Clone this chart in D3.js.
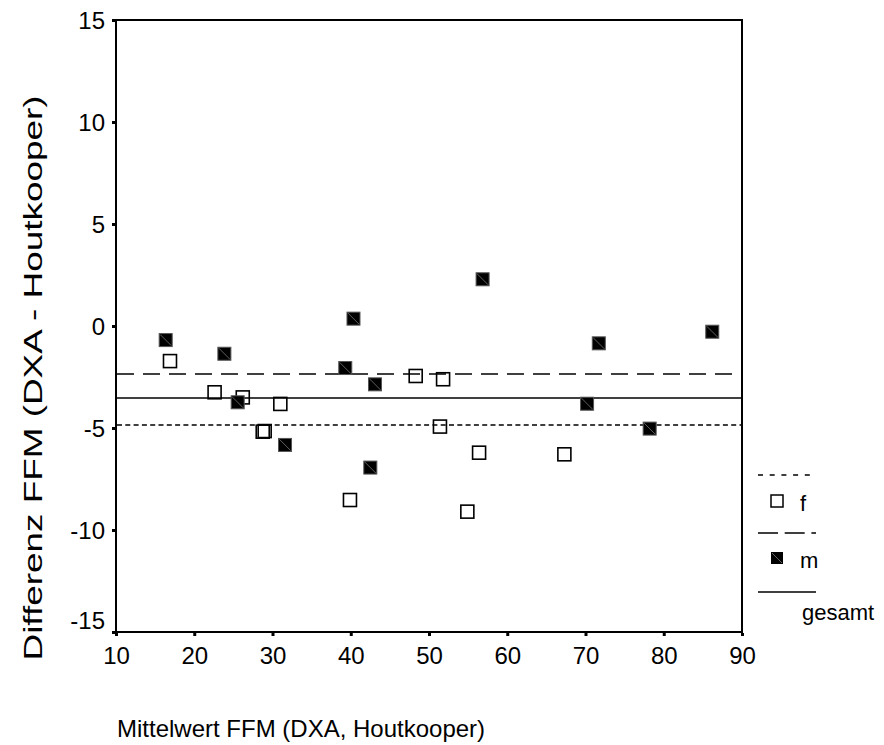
<!DOCTYPE html>
<html>
<head>
<meta charset="utf-8">
<script src="https://cdn.jsdelivr.net/npm/d3@7"></script>
<style>
  body { margin: 0; background: #fff; }
  text { font-family: "Liberation Sans", Arial, sans-serif; fill: #000; }
</style>
</head>
<body>
<svg id="chart"></svg>
<script>
// Bland-Altman data
const femaleX = [16.9, 22.6, 26.2, 31.0, 28.75, 29.0, 39.9, 48.3, 51.8, 51.4, 56.4, 54.9, 67.3];
const femaleY = [-1.72, -3.25, -3.50, -3.82, -5.18, -5.15, -8.53, -2.45, -2.61, -4.93, -6.21, -9.10, -6.29];
const maleX = [16.35, 23.85, 25.55, 31.6, 56.85, 40.35, 39.3, 43.1, 42.5, 71.7, 86.2, 70.2, 78.2];
const maleY = [-0.69, -1.36, -3.74, -5.83, 2.29, 0.36, -2.06, -2.86, -6.94, -0.85, -0.28, -3.81, -5.03];

// mean lines: f (dotted), m (dashed), gesamt (solid)
const meanLabels = ["f", "m", "gesamt"];
const meanValues = [-4.85, -2.35, -3.53];

const xTicks = [10, 20, 30, 40, 50, 60, 70, 80, 90];
const yTicks = [-15, -10, -5, 0, 5, 10, 15];

const W = 884, H = 745;
const plot = { left: 116, right: 742, top: 20, bottom: 632 };

const svg = d3.select("#chart").attr("width", W).attr("height", H);

const x = d3.scaleLinear().domain([10, 90]).range([plot.left, plot.right]);
const y = d3.scaleLinear().domain([-15, 15]).range([plot.bottom, plot.top]);

// frame
svg.append("rect")
    .attr("x", plot.left).attr("y", plot.top)
    .attr("width", plot.right - plot.left).attr("height", plot.bottom - plot.top)
    .attr("fill", "none").attr("stroke", "#000").attr("stroke-width", 2);

// axes with small square ticks, plain hyphen minus
const fmt = d => String(d);

const yAxis = svg.append("g")
    .attr("transform", `translate(${plot.left - 1},0)`)
    .call(d3.axisLeft(y).tickValues(yTicks).tickFormat(fmt).tickSize(3).tickPadding(7));
yAxis.select(".domain").remove();
yAxis.selectAll(".tick line").attr("stroke-width", 3);
yAxis.selectAll(".tick text")
    .style("font-size", "24px")
    .attr("font-family", null)
    .attr("dy", d => d === -15 ? "-0.15em" : "0.35em");

const xAxis = svg.append("g")
    .attr("transform", `translate(0,${plot.bottom + 1})`)
    .call(d3.axisBottom(x).tickValues(xTicks).tickFormat(fmt).tickSize(3).tickPadding(11));
xAxis.select(".domain").remove();
xAxis.selectAll(".tick line").attr("stroke-width", 3);
xAxis.selectAll(".tick text")
    .style("font-size", "24px")
    .attr("font-family", null);

// mean lines
const dashes = ["5,3.3", "17,9", null];
svg.selectAll(".mean")
    .data(meanValues)
    .enter().append("line")
    .attr("class", "mean")
    .attr("x1", plot.left + 1).attr("x2", plot.right - 1)
    .attr("y1", d => y(d)).attr("y2", d => y(d))
    .attr("stroke", "#000").attr("stroke-width", 1.5)
    .attr("stroke-dasharray", (d, i) => dashes[i]);

const s = 13;

// female: open squares
svg.selectAll(".f")
    .data(femaleX.map((v, i) => [v, femaleY[i]]))
    .enter().append("rect")
    .attr("class", "f")
    .attr("x", d => x(d[0]) - s / 2).attr("y", d => y(d[1]) - s / 2)
    .attr("width", s).attr("height", s)
    .attr("fill", "none")
    .attr("stroke", "#000").attr("stroke-width", 1.6);

// male: filled squares with a faint diagonal
const m = svg.selectAll(".m")
    .data(maleX.map((v, i) => [v, maleY[i]]))
    .enter().append("g")
    .attr("class", "m")
    .attr("transform", d => `translate(${x(d[0])},${y(d[1])})`);
m.append("rect")
    .attr("x", -s / 2).attr("y", -s / 2).attr("width", s).attr("height", s)
    .attr("fill", "#000").attr("stroke", "#555").attr("stroke-width", 1);
m.append("line")
    .attr("x1", -s / 2 + 1).attr("y1", -s / 2 + 1).attr("x2", s / 2 - 1).attr("y2", s / 2 - 1)
    .attr("stroke", "#777").attr("stroke-width", 0.8);

// axis titles
svg.append("text")
    .attr("x", 117).attr("y", 737)
    .style("font-size", "24px")
    .text("Mittelwert FFM (DXA, Houtkooper)");

svg.append("text")
    .attr("transform", "translate(42,378) rotate(-90)")
    .attr("text-anchor", "middle")
    .style("font-size", "25px")
    .attr("textLength", 565)
    .attr("lengthAdjust", "spacingAndGlyphs")
    .text("Differenz FFM (DXA - Houtkooper)");

// legend
const lg = svg.append("g");
const lgDash = ["5,6.7", "20,6.7", null];
const lgLineY = [475, 533, 592];
const lgTextY = [511, 568, 620];
lg.selectAll(".lgline")
    .data(meanLabels)
    .enter().append("line")
    .attr("x1", 758).attr("x2", 816)
    .attr("y1", (d, i) => lgLineY[i]).attr("y2", (d, i) => lgLineY[i])
    .attr("stroke", "#000").attr("stroke-width", 1.5)
    .attr("stroke-dasharray", (d, i) => lgDash[i]);

lg.append("rect")
    .attr("x", 771).attr("y", 495).attr("width", 12).attr("height", 12)
    .attr("fill", "none").attr("stroke", "#000").attr("stroke-width", 1.5);
lg.append("rect")
    .attr("x", 771).attr("y", 552).attr("width", 12).attr("height", 12)
    .attr("fill", "#000");
lg.append("line")
    .attr("x1", 772).attr("y1", 553).attr("x2", 782).attr("y2", 563)
    .attr("stroke", "#777").attr("stroke-width", 0.8);

lg.selectAll(".lgtext")
    .data(meanLabels)
    .enter().append("text")
    .attr("x", (d, i) => i === 2 ? 802 : 800)
    .attr("y", (d, i) => lgTextY[i])
    .style("font-size", "22px")
    .text(d => d);
</script>
</body>
</html>
